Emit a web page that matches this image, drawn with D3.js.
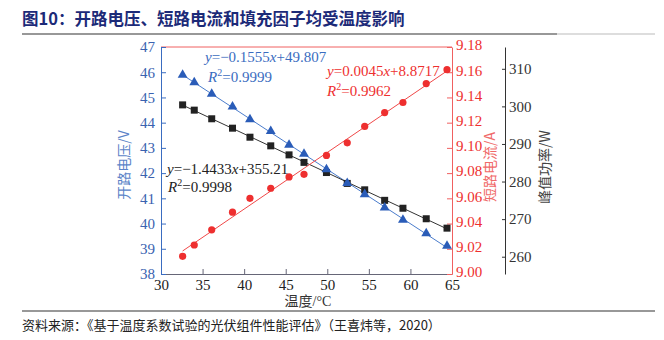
<!DOCTYPE html>
<html><head><meta charset="utf-8">
<script src="https://cdn.jsdelivr.net/npm/d3@7"></script>
<style>body{margin:0;background:#fff}svg{display:block}</style>
</head><body>
<svg id="c" width="664" height="340"></svg>
<script>
const temps = [32.6, 34.0, 36.1, 38.6, 40.7, 43.2, 45.4, 47.2, 49.9, 52.4, 54.5, 56.9, 59.1, 61.9, 64.4];
const voltage = [45.89, 45.60, 45.14, 44.63, 44.13, 43.66, 43.12, 42.76, 42.15, 41.60, 41.16, 40.63, 40.14, 39.61, 39.11];
const current = [9.014, 9.023, 9.035, 9.049, 9.060, 9.068, 9.077, 9.079, 9.094, 9.104, 9.117, 9.128, 9.136, 9.151, 9.162];
const power = [300.4, 299.0, 296.7, 294.2, 291.8, 289.5, 287.1, 285.1, 282.4, 279.5, 277.8, 275.0, 272.9, 270.1, 267.6];
const xTicks = [30, 35, 40, 45, 50, 55, 60, 65];
const vTicks = [38, 39, 40, 41, 42, 43, 44, 45, 46, 47];
const iTicks = [9.00, 9.02, 9.04, 9.06, 9.08, 9.10, 9.12, 9.14, 9.16, 9.18];
const pTicks = [260, 270, 280, 290, 300, 310];
const title = "图10：开路电压、短路电流和填充因子均受温度影响";
const source = "资料来源：《基于温度系数试验的光伏组件性能评估》（王喜炜等，2020）";

const svg = d3.select("#c");
const L = 161, R = 452, T = 47, B = 274;
const serif = "'Liberation Serif','DejaVu Serif',serif";
const cjk = "'Noto Sans CJK SC',sans-serif";
const BLUE = "#3a6cc0", BLUE_T = "#3a62b0", RED = "#ee2f2f", RED_AX = "#f06060", BLK = "#222";

const x = d3.scaleLinear().domain([30, 65]).range([L, R]);
const yV = d3.scaleLinear().domain([38, 47]).range([B, T]);
const yI = d3.scaleLinear().domain([9.00, 9.18]).range([B, T]);
const yP = d3.scaleLinear().domain([255.4, 315.8]).range([B, T]);

// title
svg.append("text").attr("x", 22).attr("y", 25).attr("font-family", cjk).attr("font-weight", "bold")
  .attr("font-size", 16.5).attr("fill", "#1c2a78").text(title);
svg.append("line").attr("x1", 22).attr("x2", 557).attr("y1", 34).attr("y2", 34).attr("stroke", "#333").attr("stroke-width", 1.2);
svg.append("line").attr("x1", 557).attr("x2", 655).attr("y1", 34).attr("y2", 34).attr("stroke", "#bbb").attr("stroke-width", 1);

// top border (red)
svg.append("line").attr("x1", L).attr("x2", R).attr("y1", T).attr("y2", T).attr("stroke", RED_AX);

// x axis
const gx = svg.append("g").attr("transform", `translate(0,${B})`)
  .call(d3.axisBottom(x).tickValues(xTicks).tickSizeInner(-5).tickSizeOuter(0).tickPadding(5));
gx.select(".domain").attr("stroke", "#667");
gx.selectAll(".tick line").attr("stroke", "#667");
gx.selectAll("text").attr("font-family", serif).attr("font-size", 15).attr("fill", BLK);

// left axis
const gv = svg.append("g").attr("transform", `translate(${L},0)`)
  .call(d3.axisLeft(yV).tickValues(vTicks).tickSizeInner(-5).tickSizeOuter(0).tickPadding(6));
gv.select(".domain").attr("stroke", BLUE);
gv.selectAll(".tick line").attr("stroke", BLUE);
gv.selectAll("text").attr("font-family", serif).attr("font-size", 15).attr("fill", BLUE_T);

// right red axis
const gi = svg.append("g").attr("transform", `translate(${R},0)`)
  .call(d3.axisRight(yI).tickValues(iTicks).tickFormat(d3.format(".2f")).tickSizeInner(-5).tickSizeOuter(0).tickPadding(4));
gi.select(".domain").attr("stroke", RED_AX);
gi.selectAll(".tick line").attr("stroke", RED_AX);
gi.selectAll("text").attr("font-family", serif).attr("font-size", 15).attr("fill", RED).attr("y", -2);

// power axis
const gp = svg.append("g").attr("transform", `translate(505,0)`)
  .call(d3.axisRight(yP).tickValues(pTicks).tickSizeInner(-3).tickSizeOuter(0).tickPadding(4));
gp.select(".domain").attr("stroke", "#333");
gp.selectAll(".tick line").attr("stroke", "#333");
gp.selectAll("text").attr("font-family", serif).attr("font-size", 15).attr("fill", "#333");

// axis titles
svg.append("text").attr("transform", "translate(129,165) rotate(-90)").attr("text-anchor", "middle")
  .attr("font-family", cjk).attr("font-size", 14).attr("fill", "#5b84c8").text("开路电压/V");
svg.append("text").attr("transform", "translate(495,167) rotate(-90)").attr("text-anchor", "middle")
  .attr("font-family", cjk).attr("font-size", 14).attr("fill", "#f06a6a").text("短路电流/A");
svg.append("text").attr("transform", "translate(550,167) rotate(-90)").attr("text-anchor", "middle")
  .attr("font-family", cjk).attr("font-size", 14).attr("fill", "#444").text("峰值功率/W");
svg.append("text").attr("x", 308).attr("y", 306).attr("text-anchor", "middle")
  .attr("font-family", "'Liberation Serif','Noto Sans CJK SC',serif").attr("font-size", 14).attr("fill", "#333").text("温度/°C");

// fit lines
function fit(xs, ys) {
  const n = xs.length, mx = d3.mean(xs), my = d3.mean(ys);
  let sxy = 0, sxx = 0;
  for (let i = 0; i < n; i++) { sxy += (xs[i] - mx) * (ys[i] - my); sxx += (xs[i] - mx) ** 2; }
  const b = sxy / sxx, a = my - b * mx;
  return [xs[0], xs[n - 1]].map(t => [t, a + b * t]);
}
const series = [
  {vals: voltage, y: yV, color: BLUE, line: "#4a7ccc"},
  {vals: power, y: yP, color: BLK, line: "#333"},
  {vals: current, y: yI, color: RED, line: "#f04848"}
];
series.forEach(s => {
  svg.append("path").datum(fit(temps, s.vals)).attr("fill", "none").attr("stroke", s.line).attr("stroke-width", 1)
    .attr("d", d3.line().x(d => x(d[0])).y(d => s.y(d[1])));
});

// markers
svg.append("g").selectAll("rect").data(temps).join("rect")
  .attr("x", (d, i) => x(d) - 3.5).attr("y", (d, i) => yP(power[i]) - 3.5).attr("width", 7).attr("height", 7).attr("fill", BLK);
const tri = d3.symbol().type(d3.symbolTriangle).size(42);
svg.append("g").selectAll("path").data(temps).join("path")
  .attr("transform", (d, i) => `translate(${x(d)},${yV(voltage[i])})`).attr("d", tri).attr("fill", "#2a5cb8");
svg.append("g").selectAll("circle").data(temps).join("circle")
  .attr("cx", d => x(d)).attr("cy", (d, i) => yI(current[i])).attr("r", 3.6).attr("fill", RED);

// equations
function eq(xp, yp, color, parts) {
  const t = svg.append("text").attr("x", xp).attr("y", yp).attr("font-family", serif).attr("font-size", 15).attr("fill", color);
  parts.forEach(p => {
    const ts = t.append("tspan").text(p[0]);
    if (p[1] === "i") ts.attr("font-style", "italic");
    if (p[1] === "sup") ts.attr("font-size", 10).attr("dy", -6);
    if (p[1] === "down") ts.attr("dy", 6);
  });
}
eq(205, 62, BLUE, [["y", "i"], ["=−0.1555"], ["x", "i"], ["+49.807"]]);
eq(208, 82, BLUE, [["R", "i"], ["2", "sup"], ["=0.9999", "down"]]);
eq(327, 76, RED, [["y", "i"], ["=0.0045"], ["x", "i"], ["+8.8717"]]);
eq(327, 96, RED, [["R", "i"], ["2", "sup"], ["=0.9962", "down"]]);
eq(167, 174, BLK, [["y", "i"], ["=−1.4433"], ["x", "i"], ["+355.21"]]);
eq(168, 192, BLK, [["R", "i"], ["2", "sup"], ["=0.9998", "down"]]);

// footer
svg.append("line").attr("x1", 22).attr("x2", 655).attr("y1", 311).attr("y2", 311).attr("stroke", "#333").attr("stroke-width", 1.2);
svg.append("text").attr("x", 22).attr("y", 330).attr("font-family", cjk).attr("font-size", 13).attr("fill", "#222").text(source);
</script>
</body></html>
